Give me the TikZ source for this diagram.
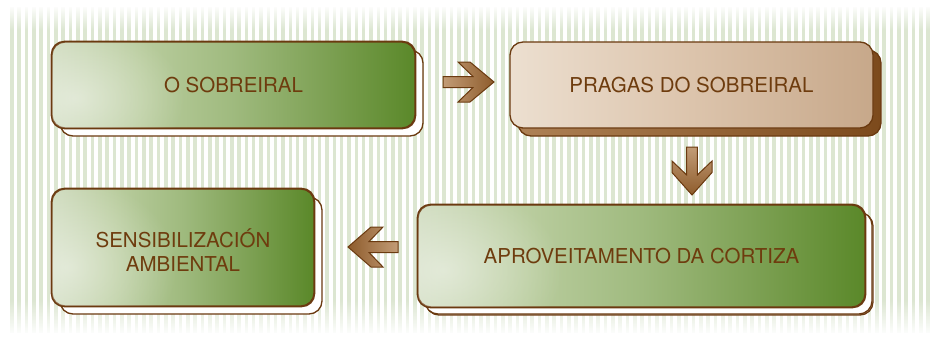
\documentclass[tikz,border=0pt]{standalone}
\usepackage{fontspec}
\setmainfont{TeX Gyre Heros}
\usetikzlibrary{shadows,fadings}

\definecolor{brd}{HTML}{6B3A10}
\definecolor{txt}{HTML}{6E3C0E}
\definecolor{stripe}{HTML}{DCE6D1}
\definecolor{gA}{HTML}{CFDBBE}
\definecolor{gB}{HTML}{BACD9F}
\definecolor{gC}{HTML}{9FBA7E}
\definecolor{gD}{HTML}{7FA256}
\definecolor{gE}{HTML}{5A8829}
\definecolor{tA}{HTML}{ECDFD0}
\definecolor{tB}{HTML}{DCC4AC}
\definecolor{tC}{HTML}{C7A88A}
\definecolor{bA}{HTML}{AE8155}
\definecolor{bB}{HTML}{7C4A1C}
\definecolor{arL}{HTML}{C29C76}
\definecolor{arD}{HTML}{8E5C2C}

\pgfdeclarehorizontalshading{greenshade}{100bp}{color(0bp)=(gA); color(25bp)=(gA); color(37bp)=(gB); color(50bp)=(gC); color(62bp)=(gD); color(75bp)=(gE); color(100bp)=(gE)}
\pgfdeclarehorizontalshading{tanshade}{100bp}{color(0bp)=(tA); color(25bp)=(tA); color(50bp)=(tB); color(75bp)=(tC); color(100bp)=(tC)}
\pgfdeclarehorizontalshading{brownshade}{100bp}{color(0bp)=(bA); color(25bp)=(bA); color(75bp)=(bB); color(100bp)=(bB)}

\tikzfading[name=fadetop, top color=transparent!0, bottom color=transparent!100]
\tikzfading[name=fadebot, top color=transparent!100, bottom color=transparent!0]
\tikzfading[name=softglow, inner color=transparent!0, outer color=transparent!100]

\tikzset{
  boxbase/.style={rounded corners=13pt, draw=brd, line width=1.3pt, inner sep=0pt,
    text=txt, font=\fontsize{20.5}{23.5}\selectfont, align=center},
  greenbox/.style={boxbase, shading=greenshade,
    general shadow={shadow xshift=8pt, shadow yshift=-8pt, fill=white, draw=brd, line width=1.3pt}},
  tanbox/.style={boxbase, shading=tanshade,
    general shadow={shadow xshift=8pt, shadow yshift=-8pt, shading=brownshade, draw=brd, line width=1.3pt}},
  blockarrow/.style={draw=brd, line width=1pt, line join=miter},
  glow/.style={white, opacity=0.45, path fading=softglow},
  labeltext/.style={text=txt, font=\fontsize{20.5}{23.5}\selectfont, inner sep=0pt, align=center},
}

\begin{document}
\begin{tikzpicture}[x=1pt, y=-1pt]
\useasboundingbox (0,0) rectangle (933,337);
\fill[white] (0,0) rectangle (933,337);

% striped background
\foreach \i in {0,...,125}
  \fill[stripe] ({10+\i*7.33},7) rectangle ++(3.6,326);
\fill[white, path fading=fadetop] (8,5) rectangle (932,30);
\fill[white, path fading=fadebot] (8,300) rectangle (932,335);

% boxes
\node[greenbox, minimum width=363pt, minimum height=86pt] (sob) at (233.5,85) {};
\node[tanbox, minimum width=363pt, minimum height=86pt] (pra) at (691.5,85) {PRAGAS DO SOBREIRAL};
\node[greenbox, minimum width=447pt, minimum height=102pt,
  general shadow={shadow xshift=7pt, shadow yshift=-7pt, fill=white, draw=brd, line width=1.3pt}] (apr) at (641.5,256) {};
\node[greenbox, minimum width=262pt, minimum height=117pt] (sen) at (183,247.5) {};

% soft highlights
\begin{scope}
  \clip[rounded corners=13pt] (sob.south west) rectangle (sob.north east);
  \fill[glow] (75,98) ellipse (110 and 75);
\end{scope}
\begin{scope}
  \clip[rounded corners=13pt] (apr.south west) rectangle (apr.north east);
  \fill[glow] (443,270) ellipse (120 and 85);
\end{scope}
\begin{scope}
  \clip[rounded corners=13pt] (sen.south west) rectangle (sen.north east);
  \fill[glow] (67,267) ellipse (110 and 90);
\end{scope}
\draw[rounded corners=13pt, draw=brd, line width=1.3pt] (sob.south west) rectangle (sob.north east);
\draw[rounded corners=13pt, draw=brd, line width=1.3pt] (apr.south west) rectangle (apr.north east);
\draw[rounded corners=13pt, draw=brd, line width=1.3pt] (sen.south west) rectangle (sen.north east);

% labels
\node[labeltext] (sobt) at (sob.center) {O SOBREIRAL};
\node[labeltext] (aprt) at (apr.center) {APROVEITAMENTO DA CORTIZA};
\node[labeltext] (sent) at (183,250) {SENSIBILIZACIÓN\\AMBIENTAL};

% block arrows
\coordinate (ra) at (443,82);
\coordinate (da) at (692,147);
\coordinate (la) at (398,247);
\begin{scope}[shift={(ra)}]
  \draw[blockarrow, left color=arL, right color=arD]
    (0,-5.5) -- (30,-5.5) -- (15,-20) -- (27,-20) -- (51,0) -- (27,20) -- (15,20) -- (30,5.5) -- (0,5.5) -- cycle;
\end{scope}
\begin{scope}[shift={(da)}]
  \draw[blockarrow, top color=arL, bottom color=arD]
    (-5.3,0) -- (-5.3,28) -- (-20,14) -- (-20,25.5) -- (0,48) -- (20,25.5) -- (20,14) -- (5.3,28) -- (5.3,0) -- cycle;
\end{scope}
\begin{scope}[shift={(la)}]
  \draw[blockarrow, left color=arD, right color=arL]
    (0,-5.5) -- (-29,-5.5) -- (-15,-20) -- (-27,-20) -- (-50,0) -- (-27,20) -- (-15,20) -- (-29,5.5) -- (0,5.5) -- cycle;
\end{scope}
\end{tikzpicture}
\end{document}
